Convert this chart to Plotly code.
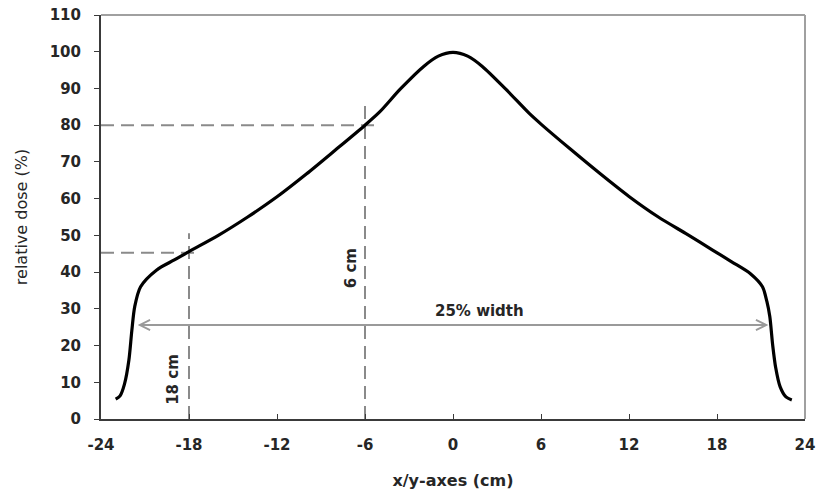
import plotly.graph_objects as go

# Dose profile
pos_cm = [-23.0, -22.7, -22.4, -22.1, -21.9, -21.7, -21.3, -20.2, -19.0, -18.0,
          -16.0, -14.0, -12.0, -10.0, -8.0, -6.0, -5.0, -3.6, -2.0, -1.0, 0.0,
          1.0, 2.0, 3.6, 5.2, 6.0, 8.0, 10.0, 12.0, 14.0, 16.0,
          17.7, 19.0, 20.3, 21.1, 21.4, 21.6, 21.8, 22.0, 22.3, 22.7, 23.1]
dose_pct = [5.4, 6.3, 9.5, 16.0, 24.0, 30.6, 36.0, 40.6, 43.3, 45.6,
            50.0, 55.0, 60.5, 66.7, 73.3, 80.0, 83.6, 89.8, 96.0, 98.8, 99.8,
            98.8, 96.0, 89.8, 83.2, 80.3, 73.5, 66.9, 60.6, 55.0, 50.2,
            46.0, 42.8, 39.5, 36.0, 32.0, 27.9, 20.0, 14.0, 8.8, 6.0, 5.2]

# Reference markers
h80_x = [-24.0, -5.1]
h80_y = [80, 80]
v6_x = [-6, -6]
v6_y = [0, 86]
h45_x = [-24.0, -17.5]
h45_y = [45.3, 45.3]
v18_x = [-18, -18]
v18_y = [0, 50.6]
width25_left = -21.6
width25_right = 21.5
width25_level = 25.6

x_ticks = [-24, -18, -12, -6, 0, 6, 12, 18, 24]
y_ticks = list(range(0, 111, 10))

DASH = "13px,7px"
GREY = "#8a8a8a"
TXT = "#262626"

fig = go.Figure()
for xs, ys in [(h80_x, h80_y), (v6_x, v6_y), (h45_x, h45_y), (v18_x, v18_y)]:
    fig.add_trace(go.Scatter(x=xs, y=ys, mode="lines",
                             line=dict(color=GREY, width=2, dash=DASH),
                             hoverinfo="skip", showlegend=False))

fig.add_trace(go.Scatter(x=pos_cm, y=dose_pct, mode="lines",
                         line=dict(color="black", width=3.2, shape="spline", smoothing=0.8),
                         showlegend=False))

fig.add_annotation(x=width25_right, y=width25_level, ax=width25_left, ay=width25_level,
                   xref="x", yref="y", axref="x", ayref="y", text="",
                   showarrow=True, arrowhead=5, startarrowhead=5, arrowside="end+start",
                   arrowsize=1, startarrowsize=1, arrowwidth=2, arrowcolor="#9a9a9a",
                   standoff=0, startstandoff=0)
fig.add_annotation(x=1.8, y=29.4, xref="x", yref="y", text="<b>25% width</b>",
                   showarrow=False, font=dict(family="DejaVu Sans", size=15, color=TXT))
fig.add_annotation(x=-6.9, y=41, xref="x", yref="y", text="<b>6 cm</b>", textangle=-90,
                   showarrow=False, font=dict(family="DejaVu Sans", size=15, color=TXT))
fig.add_annotation(x=-19.1, y=10.9, xref="x", yref="y", text="<b>18 cm</b>", textangle=-90,
                   showarrow=False, font=dict(family="DejaVu Sans", size=15, color=TXT))

# lighter top/right frame
fig.add_shape(type="line", xref="paper", yref="paper", x0=0, x1=1, y0=1, y1=1,
              line=dict(color="#a0a0a0", width=2))
fig.add_shape(type="line", xref="paper", yref="paper", x0=1, x1=1, y0=0, y1=1,
              line=dict(color="#a0a0a0", width=2))

fig.update_layout(
    width=817, height=494,
    margin=dict(l=101, r=12, t=15, b=75, autoexpand=False),
    paper_bgcolor="white", plot_bgcolor="white",
    font=dict(family="DejaVu Sans", color=TXT),
    xaxis=dict(range=[-24, 24], tickvals=x_ticks, ticktext=[str(v) for v in x_ticks],
               automargin=False,
               showgrid=False, zeroline=False, showline=True, linecolor="#3a3a3a", linewidth=2,
               ticks="inside", ticklen=5, tickcolor="#3a3a3a", tickwidth=1,
               tickfont=dict(family="DejaVu Sans", size=15, color=TXT, weight="bold"),
               ticklabelstandoff=11,
               title=dict(text="<b>x/y-axes (cm)</b>", font=dict(family="DejaVu Sans", size=16, color=TXT),
                          standoff=22)),
    yaxis=dict(range=[0, 110], tickvals=y_ticks,
               automargin=False,
               showgrid=False, zeroline=False, showline=True, linecolor="#3a3a3a", linewidth=2,
               ticks="outside", ticklen=5, tickcolor="#3a3a3a", tickwidth=1,
               tickfont=dict(family="DejaVu Sans", size=15, color=TXT, weight="bold"),
               ticklabelstandoff=10,
               title=dict(text="relative dose (%)", font=dict(family="DejaVu Sans", size=16, color=TXT),
                          standoff=18)),
)

fig.write_html("out.html")
